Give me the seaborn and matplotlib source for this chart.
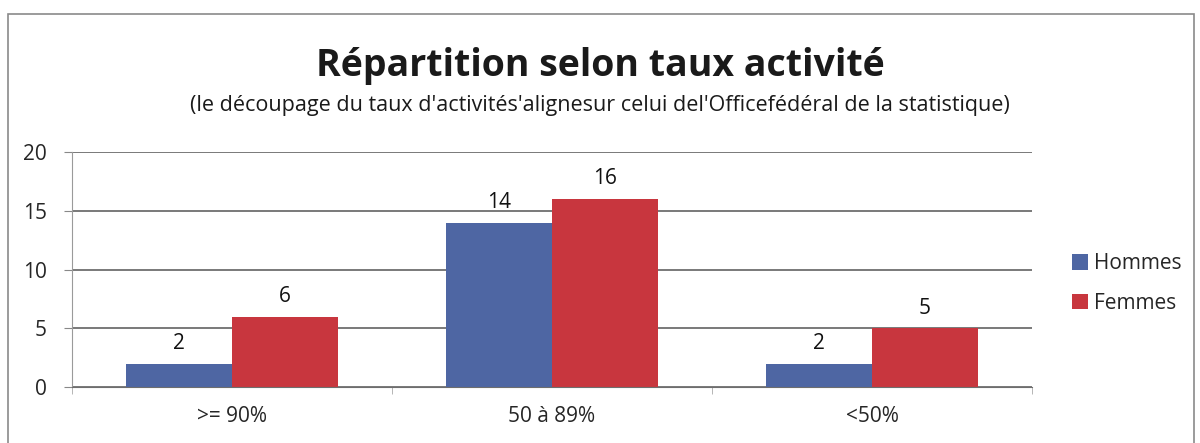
import pandas as pd
import seaborn as sns
import matplotlib.pyplot as plt
from matplotlib.patches import Rectangle, Patch

# chart data
categories = [">= 90%", "50 à 89%", "<50%"]
hommes = [2, 14, 2]
femmes = [6, 16, 5]
series = ["Hommes", "Femmes"]
colors = ["#4E66A3", "#C8363E"]

df = pd.DataFrame({
    "categorie": categories * 2,
    "valeur": hommes + femmes,
    "sexe": [series[0]] * 3 + [series[1]] * 3,
})

sns.set_style("white")
plt.rcParams['font.family'] = ['Open Sans', 'DejaVu Sans']

fig = plt.figure(figsize=(12, 4.43), dpi=100)
ax = fig.add_axes([0.06, 0.126, 0.8, 0.531])

sns.barplot(data=df, x="categorie", y="valeur", hue="sexe", order=categories,
            hue_order=series, palette=colors, width=0.66, saturation=1,
            edgecolor="none", legend=False, ax=ax)

# value labels above bars
for cont in ax.containers:
    ax.bar_label(cont, padding=7, fontsize=15, color="#111111")

ax.set_ylim(0, 20)
ax.set_yticks([0, 5, 10, 15, 20])
ax.set_xlim(-0.5, 2.5)
ax.grid(axis="y", color="#6e6e6e", linewidth=1.3)
ax.set_axisbelow(True)
for s in ["top", "right"]:
    ax.spines[s].set_visible(False)
ax.spines["left"].set_color("#9a9a9a")
ax.spines["bottom"].set_color("#6e6e6e")
ax.tick_params(axis="y", left=True, length=6, color="#888888", labelsize=15, pad=12)
ax.tick_params(axis="x", bottom=False, labelsize=15, pad=10)
ax.set_xticks([-0.5, 0.5, 1.5, 2.5], minor=True)
ax.tick_params(axis="x", which="minor", bottom=True, length=5, color="#aaaaaa")
ax.set_xlabel("")
ax.set_ylabel("")

handles = [Patch(facecolor=c, edgecolor="none") for c in colors]
fig.legend(handles, series, loc="center left", bbox_to_anchor=(0.878, 0.36),
           frameon=False, fontsize=15, handlelength=0.75, handleheight=0.75,
           handletextpad=0.3, labelspacing=0.9)

fig.text(0.5, 0.852, "Répartition selon taux activité", ha="center", va="center",
         fontsize=27, fontweight="bold", color="#1a1a1a")
fig.text(0.5, 0.762, "(le découpage du taux d'activités'alignesur celui del'Officefédéral de la statistique)",
         ha="center", va="center", fontsize=15.5, color="#1a1a1a")

# outer frame of the chart
fig.patches.append(Rectangle((0.007, -0.01), 0.988, 0.978, transform=fig.transFigure,
                             fill=False, edgecolor="#8a8a8a", linewidth=1.2))

fig.savefig("out.png", dpi=100)
